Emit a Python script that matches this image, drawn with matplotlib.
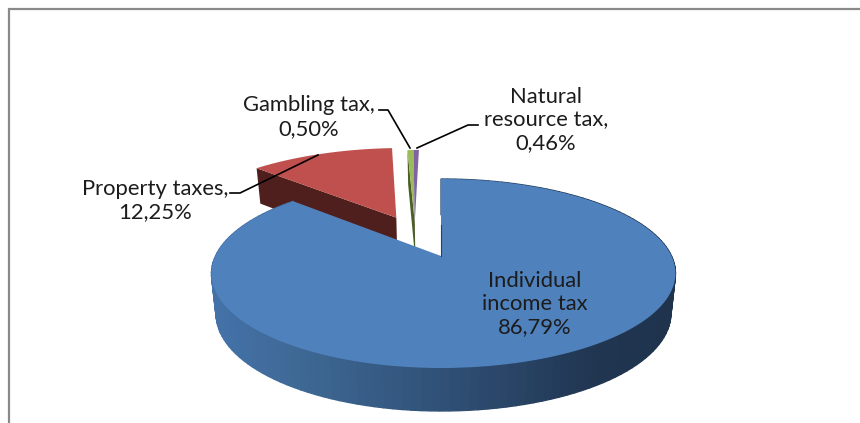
import numpy as np
import matplotlib
matplotlib.use("Agg")
import matplotlib.pyplot as plt

categories = ["Individual\nincome tax", "Property taxes,", "Gambling tax,", "Natural\nresource tax,"]
shares = [86.79, 12.25, 0.50, 0.46]
share_labels = ["86,79%", "12,25%", "0,50%", "0,46%"]

top_colors = ["#4F81BD", "#C0504D", "#9BBB59", "#8064A2"]
side_colors = ["#1F3550", "#4F1F1D", "#4A5E26", "#403152"]

# explode offset of each slice on the pie plane, and its radius
offsets = [(0, 0), (-0.215, 0.455), (-0.125, 0.40), (-0.125, 0.40)]
radii = [1.0, 1.06, 1.08, 1.08]

# perspective of the pie plane in pixels
CX, CY = 441.0, 256.0
A, B, K = 228.0, 91.26, 0.185


def project(c, s):
    w = 1 + K * s
    # the picture is a bit off centre: sides sit 2.5 px right of the apex
    return CX + A * c / w + 2.5 * np.abs(c), CY - B * s / w


def project_low(c, s):
    # same point on the bottom face of the pie
    x, y = project(c, s)
    return 443 + (x - 443) * 0.98, y + 39.5 - 3.5 * np.asarray(s)


def rim(a0, a1, off, r, n):
    phi = np.radians(np.linspace(a0, a1, n))
    return off[0] + r * np.sin(phi), off[1] + r * np.cos(phi)


fig = plt.figure(figsize=(8.6, 4.23), dpi=100)
ax = fig.add_axes([0, 0, 1, 1])
ax.set_xlim(0, 860)
ax.set_ylim(423, 0)
ax.axis("off")

# chart frame, cut off on the right and at the bottom
ax.plot([9, 9, 860], [423, 9, 9], color="#8A8A8A", lw=1.6, zorder=1, solid_joinstyle="miter")

edges = np.concatenate([[0], np.cumsum(shares) * 3.6])

# slices behind the big one first
for i in [1, 2, 3]:
    a0, a1 = edges[i], edges[i + 1]
    off = offsets[i]
    c, s = rim(a0, a1, off, radii[i], 40)
    # cut wall on the left side
    tx0, ty0 = project(off[0], off[1])
    tx1, ty1 = project(c[0], s[0])
    bx0, by0 = project_low(off[0], off[1])
    bx1, by1 = project_low(c[0], s[0])
    ax.fill([tx0, tx1, bx1, bx0], [ty0, ty1, by1, by0], color=side_colors[i], lw=0, zorder=2 + i)
    x, y = project(c, s)
    ax.fill(np.r_[tx0, x], np.r_[ty0, y], color=top_colors[i], lw=0, zorder=2 + i)

# big slice wall, shaded from left to right
c, s = rim(edges[0], edges[1], offsets[0], radii[0], 157)
xt, yt = project(c, s)
xb, yb = project_low(c, s)
shade_x = [215, 300, 450, 600, 676]
shade_r = [0x44, 0x3E, 0x2F, 0x20, 0x1F]
shade_g = [0x72, 0x68, 0x4F, 0x35, 0x33]
shade_b = [0xA8, 0x94, 0x75, 0x50, 0x4D]
for j in range(len(c) - 1):
    mid = (xt[j] + xt[j + 1]) / 2
    col = (np.interp(mid, shade_x, shade_r) / 255,
           np.interp(mid, shade_x, shade_g) / 255,
           np.interp(mid, shade_x, shade_b) / 255)
    ax.fill([xt[j], xt[j + 1], xb[j + 1], xb[j]], [yt[j], yt[j + 1], yb[j + 1], yb[j]],
            facecolor=col, edgecolor=col, lw=1.0, zorder=7)
ax.fill(np.r_[CX, xt], np.r_[CY, yt], color=top_colors[0], lw=0, zorder=8)
ax.plot([CX, CX], [225, CY], color="#27405F", lw=0.8, zorder=8)

# leader lines
ax.plot([230, 240, 318], [193, 193, 155], color="black", lw=1.2, zorder=9)
ax.plot([379, 388, 410], [110, 110, 148], color="black", lw=1.2, zorder=9)
ax.plot([478, 468, 417], [125, 125, 148], color="black", lw=1.2, zorder=9)

# labels
FONT = "Lato"
SIZE = 15.8
TXT = "#1C1C1C"
label_pos = [(535, 304), (155, 200.5), (308.5, 117), (546, 120)]
for i in range(4):
    ax.text(label_pos[i][0], label_pos[i][1], categories[i] + "\n" + share_labels[i],
            ha="center", va="center", multialignment="center", family=FONT,
            fontsize=SIZE, color=TXT, linespacing=1.2, zorder=10)

fig.savefig("out.png", dpi=100, facecolor="white")
